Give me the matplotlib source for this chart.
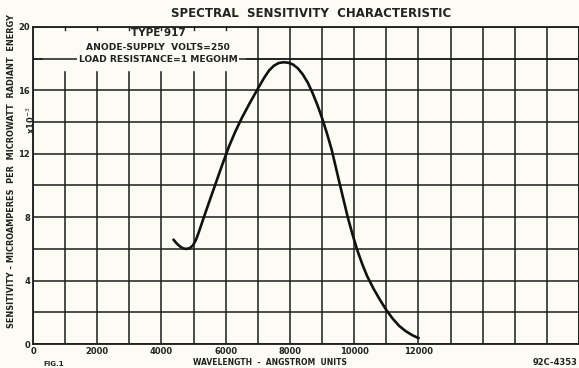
import numpy as np
import matplotlib.pyplot as plt
from matplotlib.patches import Rectangle

# wavelength (angstrom) and sensitivity
wavelength = [4380, 4480, 4580, 4680, 4780, 4880, 4980, 5080, 5170, 5320,
              5500, 5700, 5900, 6100, 6300, 6500, 6750, 7000, 7200, 7350,
              7500, 7650, 7800, 7950, 8100, 8250, 8400, 8550, 8700, 8850,
              9000, 9150, 9300, 9550, 9800, 9950, 10100, 10250, 10400, 10600,
              10800, 11000, 11200, 11400, 11600, 11800, 12000]
sensitivity = [6.57, 6.33, 6.15, 6.03, 6.0, 6.05, 6.22, 6.6, 7.1, 8.0,
               9.05, 10.2, 11.35, 12.45, 13.4, 14.25, 15.2, 16.1, 16.8, 17.25,
               17.55, 17.72, 17.77, 17.74, 17.62, 17.38, 17.0, 16.5, 15.85, 15.1,
               14.25, 13.3, 12.25, 10.1, 8.0, 6.9, 5.9, 5.05, 4.3, 3.5,
               2.8, 2.15, 1.6, 1.15, 0.82, 0.57, 0.38]

xticks = [0, 2000, 4000, 6000, 8000, 10000, 12000]
xlabels = ["0", "2000", "4000", "6000", "8000", "10000", "12000"]
yticks = [0, 4, 8, 12, 16, 20]

bg = "#fcfcf4"
ink = "#1c1c1c"
fig = plt.figure(figsize=(5.79, 3.68), dpi=100, facecolor=bg)
ax = fig.add_axes([0.057, 0.065, 0.943, 0.862])
ax.set_facecolor(bg)
ax.set_xlim(0, 17000)
ax.set_ylim(0, 20)

for x in range(0, 17001, 1000):
    ax.axvline(x, color=ink, lw=1.1, zorder=1)
for y in range(0, 21, 2):
    ax.axhline(y, color=ink, lw=1.1, zorder=1)

# blank area behind the header text
ax.add_patch(Rectangle((300, 17.25), 6300, 2.7, color=bg, zorder=2))
ax.plot([0, 17000], [18, 18], color=ink, lw=1.1, zorder=3)
# little ticks along the top border over the blank area
for x in range(1000, 7000, 1000):
    ax.plot([x, x], [20, 19.8], color=ink, lw=1.0, zorder=3)

ax.plot(wavelength, sensitivity, color="#111111", lw=1.9, zorder=4,
        solid_joinstyle="round")

for s in ax.spines.values():
    s.set_linewidth(1.3)
    s.set_color(ink)

fs = dict(fontsize=6, fontweight="bold", color="#222222")
ax.set_xticks(xticks)
ax.set_xticklabels(xlabels, **fs)
ax.set_yticks(yticks)
ax.set_yticklabels([str(v) for v in yticks], **fs)
ax.tick_params(length=0, pad=2)

hx = 3900
ax.text(hx, 19.6, "TYPE 917", ha="center", va="center", fontsize=7.5,
        fontweight="bold", color="#222222", zorder=5)
ax.text(hx, 18.72, "ANODE-SUPPLY  VOLTS=250", ha="center", va="center",
        zorder=5, fontsize=6.6, fontweight="bold", color="#222222")
ax.text(hx, 17.95, "LOAD RESISTANCE=1 MEGOHM", ha="center", va="center",
        zorder=5, fontsize=6.6, fontweight="bold", color="#222222",
        bbox=dict(facecolor=bg, edgecolor="none", pad=1.2))

fig.text(0.538, 0.962, "SPECTRAL  SENSITIVITY  CHARACTERISTIC", ha="center",
         va="center", fontsize=8.5, fontweight="bold", color="#222222")
fig.text(0.467, 0.016, "WAVELENGTH  -  ANGSTROM  UNITS", ha="center",
         va="center", fontsize=5.5, fontweight="bold", color="#222222")
fig.text(0.093, 0.01, "FIG.1", ha="center", va="center", fontsize=5,
         fontweight="bold", color="#222222")
fig.text(0.958, 0.016, "92C-4353", ha="center", va="center", fontsize=6,
         fontweight="bold", color="#222222")
fig.text(0.019, 0.535, "SENSITIVITY - MICROAMPERES  PER  MICROWATT  RADIANT  ENERGY",
         rotation=90, ha="center", va="center", fontsize=5.9,
         fontweight="bold", color="#222222")
fig.text(0.053, 0.674, "x10$^{-3}$", rotation=90, ha="center", va="center",
         fontsize=6, fontweight="bold", color="#222222")

fig.savefig("out.png", dpi=100, facecolor=bg)
